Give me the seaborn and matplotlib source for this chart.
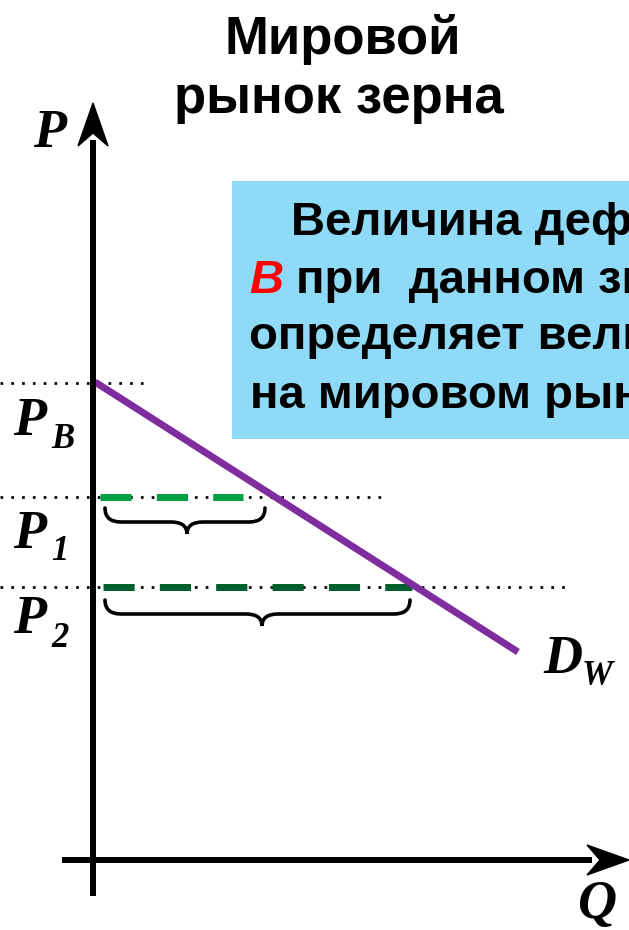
import numpy as np
import pandas as pd
import matplotlib
matplotlib.use("Agg")
import matplotlib.pyplot as plt
from matplotlib.path import Path
from matplotlib.patches import PathPatch, Rectangle, Polygon
import seaborn as sns

# ---------------- data (diagram units: Q to the right, P upward) ----------------
price_names = ["B", "1", "2"]
price_levels = [4.77, 3.63, 2.73]          # P_B, P_1, P_2
guide_end_q = [0.55, 2.92, 4.74]           # where the dotted guides stop
demand_q = [0.02, 4.25]
demand_p = [4.78, 2.08]
shortage_names = ["P1", "P2"]
shortage_start_q = [0.07, 0.10]
shortage_end_q = [1.50, 3.19]
brace_start_q = [0.12, 0.12]
brace_end_q = [1.72, 3.17]
brace_tip_q = [0.94, 1.69]
title_lines = ["Мировой", "рынок зерна"]
box_lines = ["Величина дефицита в стране", "при  данном значении цены",
             "определяет величину спроса", "на мировом рынке"]

# ---------------- figure ----------------
sns.set_theme(style="white")
plt.rcParams["font.family"] = ["Liberation Sans", "DejaVu Sans"]
W, H = 629, 930
fig = plt.figure(figsize=(W / 100, H / 100), dpi=100)
ax = fig.add_axes([0, 0, 1, 1])
X0, Y0, S = 93.0, 860.0, 100.0           # pixel position of origin, px per unit
ax.set_xlim((0 - X0) / S, (W - X0) / S)
ax.set_ylim((Y0 - H) / S, Y0 / S)
ax.axis("off")


def d(x, y):
    """pixel position -> diagram coordinates (for annotation placement)."""
    return (x - X0) / S, (Y0 - y) / S


lw_px = 72 / 100  # points per pixel

# dotted guides
x_left = d(0, 0)[0]
for lvl, qend in zip(price_levels, guide_end_q):
    gd = pd.DataFrame({"Q": [x_left, qend], "P": [lvl, lvl]})
    sns.lineplot(data=gd, x="Q", y="P", ax=ax, color="black", lw=2.7 * lw_px,
                 zorder=2, sort=False)
    ax.lines[-1].set_dashes((1.0, 3.0))
    ax.lines[-1].set_dash_capstyle("butt")

# shortage segments (green dashed)
green_colors = ["#00A045", "#005F2D"]
for i, name in enumerate(shortage_names):
    lvl = price_levels[i + 1]
    sd = pd.DataFrame({"Q": [shortage_start_q[i], shortage_end_q[i]], "P": [lvl, lvl]})
    sns.lineplot(data=sd, x="Q", y="P", ax=ax, color=green_colors[i], lw=7 * lw_px,
                 zorder=3, sort=False)
    ax.lines[-1].set_dashes((4.45, 3.6))
    ax.lines[-1].set_dash_capstyle("butt")

# demand line
dd = pd.DataFrame({"Q": demand_q, "P": demand_p})
sns.lineplot(data=dd, x="Q", y="P", ax=ax, color="#7F2D9E", lw=7 * lw_px,
             zorder=4, sort=False)
ax.lines[-1].set_solid_capstyle("butt")

# axes (black arrows)
ax.plot([0, 0], [d(0, 896)[1], d(0, 140)[1]], color="black", lw=6 * lw_px,
        solid_capstyle="butt", zorder=5)
ax.plot([d(62, 0)[0], d(592, 0)[0]], [0, 0], color="black", lw=6 * lw_px,
        solid_capstyle="butt", zorder=5)
ax.add_patch(Polygon([d(93, 103), d(78, 146), d(93, 133), d(108, 146)],
                     closed=True, color="black", zorder=6))
ax.add_patch(Polygon([d(629, 860), d(587, 845), d(600, 860), d(587, 875)],
                     closed=True, color="black", zorder=6))

# braces under the shortage segments
brace_top_px = [508, 600]
for i in range(2):
    x0, x1, xm = brace_start_q[i], brace_end_q[i], brace_tip_q[i]
    yt = d(0, brace_top_px[i])[1]
    ym = yt - 0.14
    yb = yt - 0.26
    r = 0.16
    verts = [(x0, yt), (x0, ym), (x0 + r, ym),
             (xm - r, ym), (xm, ym), (xm, yb),
             (xm, ym), (xm + r, ym),
             (x1 - r, ym), (x1, ym), (x1, yt)]
    codes = [Path.MOVETO, Path.CURVE3, Path.CURVE3,
             Path.LINETO, Path.CURVE3, Path.CURVE3,
             Path.CURVE3, Path.CURVE3,
             Path.LINETO, Path.CURVE3, Path.CURVE3]
    ax.add_patch(PathPatch(Path(verts, codes), fill=False, lw=3.6 * lw_px,
                           color="black", capstyle="round", zorder=5))

# axis labels (bold italic serif)
lab = dict(family=["Liberation Serif", "DejaVu Serif"], weight="bold",
           style="italic", color="black", zorder=7)
ax.text(*d(33, 147), "P", fontsize=39, ha="left", va="baseline", **lab)
ax.text(*d(577, 918), "Q", fontsize=39, ha="left", va="baseline", **lab)
ax.text(*d(543, 673), "D", fontsize=39, ha="left", va="baseline", **lab)
ax.text(*d(582, 685), "W", fontsize=25, ha="left", va="baseline", **lab)
p_base = [435, 548, 633]
s_base = [448, 560, 647]
for name, pb, sb in zip(price_names, p_base, s_base):
    ax.text(*d(13, pb), "P", fontsize=39, ha="left", va="baseline", **lab)
    ax.text(*d(51, sb), name, fontsize=25, ha="left", va="baseline", **lab)

# title
tfont = dict(family=["Liberation Sans", "DejaVu Sans"], weight="bold",
             color="black", fontsize=38, ha="center", va="baseline")
ax.text(*d(343, 54), title_lines[0], **tfont)
ax.text(*d(339, 113), title_lines[1], **tfont)

# info box
bx0, by0 = d(232, 439)
bx1, by1 = d(700, 181)
ax.add_patch(Rectangle((bx0, by0), bx1 - bx0, by1 - by0, facecolor="#8FDBF7",
                       edgecolor="none", zorder=1, clip_on=False))
bfont = dict(family=["Liberation Sans", "DejaVu Sans"], weight="bold",
             fontsize=34, ha="left", va="baseline", color="black", zorder=7)
ax.text(*d(291, 235), box_lines[0], **bfont)
ax.text(*d(249, 293), "В", style="italic", **{**bfont, "color": "#FF0000"})
ax.text(*d(296, 293), box_lines[1], **bfont)
ax.text(*d(249, 349), box_lines[2], **bfont)
ax.text(*d(250, 408), box_lines[3], **bfont)

fig.savefig("out.png", dpi=100)
